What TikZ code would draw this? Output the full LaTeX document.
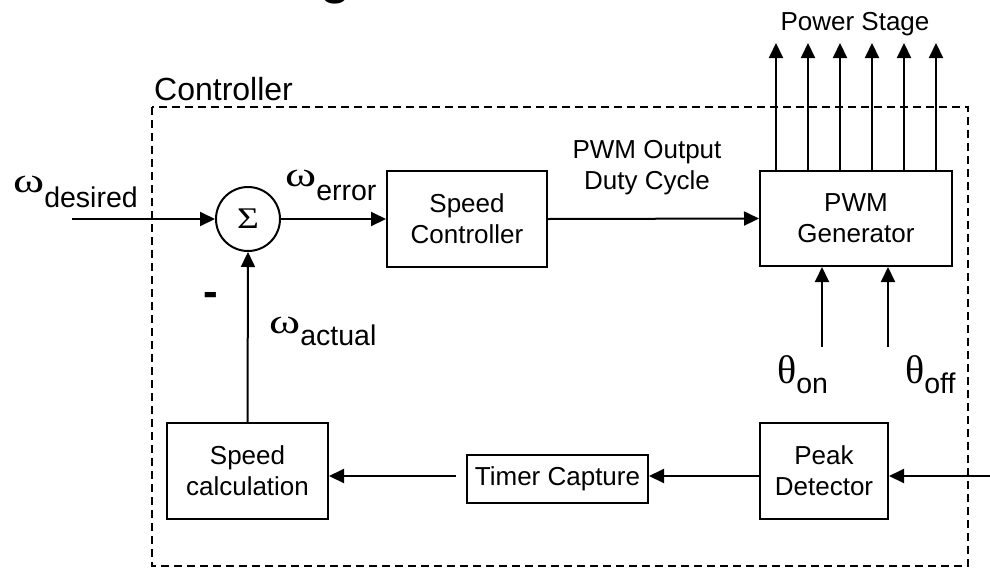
\documentclass[tikz,border=0pt]{standalone}
\usepackage{fontspec}
\setmainfont{Liberation Sans}
\newfontfamily\gk{Liberation Serif}
\usetikzlibrary{arrows.meta}
\newcommand\gsub[6]{{\gk\fontsize{#1}{#1}\selectfont\scalebox{#6}[1]{#2}}\raisebox{-#3pt}{\fontsize{#4}{#4}\selectfont #5}}
\begin{document}
\begin{tikzpicture}[x=1pt,y=-1pt,
  box/.style={draw, line width=2pt, align=center, font=\fontsize{26}{31}\selectfont, inner sep=0pt},
  arr/.style={-{Triangle[length=15pt,width=14pt]}, line width=2pt},
  lbl/.style={inner sep=0pt},
  dashbox/.style={line width=2pt, dash pattern=on 8pt off 5pt}]
\useasboundingbox (0,0) rectangle (990,568);
% title fragment
\begin{scope}
\clip (0,0) rectangle (990,568);
\node[lbl, anchor=base] (title) at (336,-6.5) {\fontsize{50}{50}\selectfont\bfseries g};
\end{scope}
% controller frame
\draw[dashbox] (152,107) rectangle (968,566);
\node[lbl, anchor=base west, font=\fontsize{32}{32}\selectfont] (ctl) at (154,100) {Controller};
% blocks
\node[draw, circle, line width=2pt, minimum size=64pt, inner sep=0pt] (sum) at (248,219) {\gk\fontsize{30}{30}\selectfont\scalebox{1.25}[1]{Σ}};
\node[box, minimum width=160pt, minimum height=96pt] (sc) at (467,219) {Speed\\Controller};
\node[box, minimum width=192pt, minimum height=95pt] (pwm) at (856,218.5) {PWM\\Generator};
\node[box, minimum width=128pt, minimum height=96pt] (peak) at (824,471) {Peak\\Detector};
\node[box, minimum width=181pt, minimum height=48pt] (timer) at (557.5,479) {Timer Capture};
\node[box, minimum width=161pt, minimum height=96pt] (calc) at (247.5,471) {Speed\\calculation};
% labels
\node[lbl, anchor=base west] (wd) at (13,192) {\gsub{35}{ω}{15}{28.5}{desired}{1.35}};
\node[lbl, anchor=base west] (we) at (285,186) {\gsub{35}{ω}{14}{28.5}{error}{1.35}};
\node[lbl, anchor=base west] (wa) at (269,333) {\gsub{35}{ω}{12}{28.5}{actual}{1.35}};
\node[lbl, anchor=base west] (ton) at (777,383) {\gsub{40}{θ}{10}{28.5}{on}{1}};
\node[lbl, anchor=base west] (toff) at (905,383) {\gsub{40}{θ}{10}{28.5}{off}{1}};
\node[lbl, anchor=base, font=\fontsize{44}{44}\selectfont\bfseries] (minus) at (211,306) {-};
\node[lbl, align=center, font=\fontsize{26}{31}\selectfont] (duty) at (647,167.5) {PWM Output\\Duty Cycle};
\node[lbl, anchor=base, font=\fontsize{26}{26}\selectfont] (ps) at (855,30) {Power Stage};
% connectors
\coordinate (win) at (72,219);
\draw[arr] (win) -- (sum.west);
\draw[arr] (sum.east) -- (sc.west);
\draw[arr] (sc.east) -- (pwm.west);
\foreach \i/\x in {1/776,2/808,3/840,4/872,5/904,6/936}{
  \coordinate (p\i) at (\x,43);
  \draw[arr] (pwm.north -| p\i) -- (p\i);
}
\coordinate (ton1) at (822,347);
\coordinate (toff1) at (888,347);
\draw[arr] (ton1) -- (pwm.south -| ton1);
\draw[arr] (toff1) -- (pwm.south -| toff1);
\coordinate (pin) at (990,476);
\draw[arr] (pin) -- (peak.east |- pin);
\draw[arr] (peak.west |- pin) -- (timer.east |- pin);
\draw[arr] ([xshift=-10pt]timer.west |- pin) -- (calc.east |- pin);
\draw[arr] (calc.north) -- (sum.south);
\end{tikzpicture}
\end{document}
